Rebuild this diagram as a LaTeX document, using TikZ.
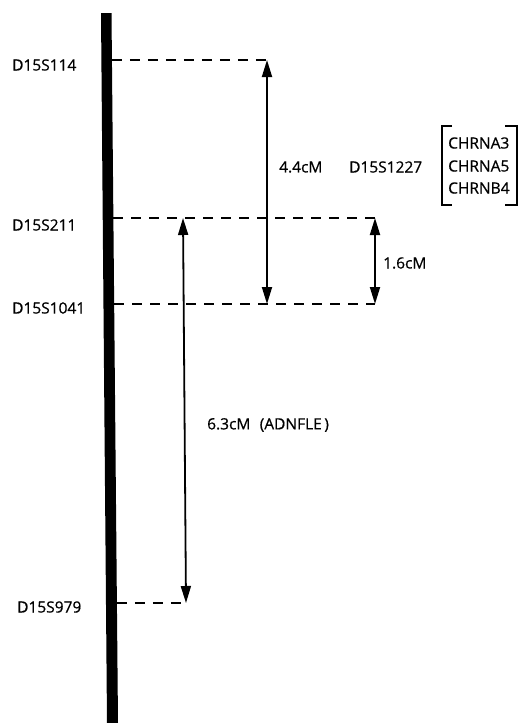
\documentclass[tikz,border=0pt]{standalone}
\usepackage{fontspec}
\setmainfont{Open Sans}[FakeBold=0.6]
\newfontfamily\lblfont{Open Sans}[FakeBold=0.6]
\usetikzlibrary{arrows.meta}
\begin{document}
\begin{tikzpicture}[x=1pt,y=-1pt,
 lbl/.style={anchor=west,inner sep=0pt,font=\lblfont\fontsize{15.5}{18}\selectfont},
 dashline/.style={line width=2.3pt,dash pattern=on 10pt off 8pt},
 dimarrow/.style={line width=1.8pt,{Triangle[length=17pt,width=10pt]}-{Triangle[length=17pt,width=10pt]}},
 brk/.style={line width=2pt}]
\useasboundingbox (0,0) rectangle (519,723);
% chromosome bar
\fill (101,13) -- (111.5,13) -- (118,723) -- (107,723) -- cycle;
% bar anchor points
\coordinate (b1) at (111.9,60);
\coordinate (b2) at (113.4,218);
\coordinate (b3) at (114.2,304);
\coordinate (b4) at (116.9,603);
% arrow end points
\coordinate (a1t) at (267,60);
\coordinate (a1b) at (267,304);
\coordinate (a2t) at (375,218);
\coordinate (a2b) at (375,304);
\coordinate (a3t) at (183,218);
\coordinate (a3b) at (186,603);
% dashed marker lines
\draw[dashline] (b1) -- (a1t);
\draw[dashline] (b2) -- (a2t);
\draw[dashline] (b3) -- (a2b);
\draw[dashline] (b4) -- (a3b);
% distance arrows
\draw[dimarrow] (a1t) -- (a1b);
\draw[dimarrow] (a2t) -- (a2b);
\draw[dimarrow] (a3t) -- (a3b);
% marker labels
\node[lbl] (m1) at (12,65) {D15S114};
\node[lbl] (m2) at (12,225) {D15S211};
\node[lbl] (m3) at (12,308) {D15S1041};
\node[lbl] (m4) at (17,607) {D15S979};
% distance labels
\node[lbl] (d1) at (279,167) {4.4cM};
\node[lbl] (d2) at (383,263) {1.6cM};
\node[lbl] (d3) at (207,425) {6.3cM\hspace{0.6em}(ADNFLE\,)};
\node[lbl] (m5) at (349,167) {D15S1227};
% gene list
\node[lbl] (g1) at (448,143) {CHRNA3};
\node[lbl] (g2) at (448,166) {CHRNA5};
\node[lbl] (g3) at (448,188) {CHRNB4};
\draw[brk] (452,126) -- (442,126) -- (442,205) -- (452,205);
\draw[brk] (505,126) -- (517,126) -- (517,205) -- (505,205);
\end{tikzpicture}
\end{document}
